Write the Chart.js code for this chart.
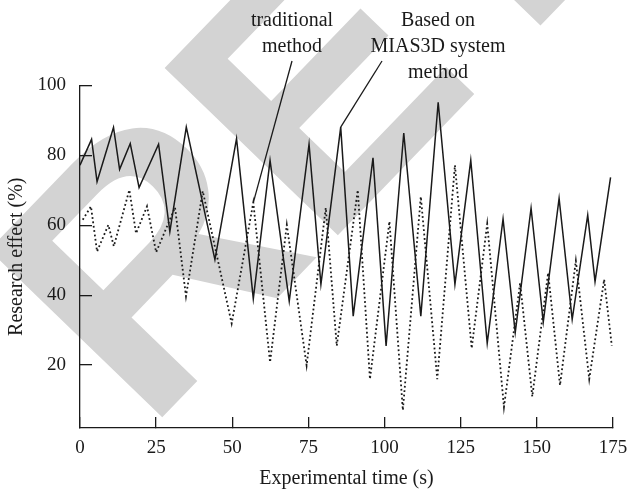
<!DOCTYPE html>
<html>
<head>
<meta charset="utf-8">
<script src="https://cdn.jsdelivr.net/npm/chart.js@4"></script>
<style>
  html, body { margin: 0; padding: 0; background: #fff; }
  #wrap { width: 629px; height: 491px; }
</style>
</head>
<body>
<div id="wrap"><canvas id="chart" width="629" height="491"></canvas></div>
<script>
// Based on MIAS3D system method (solid line)
const miasTime = [0, 3.8, 5.6, 11.0, 13.0, 16.5, 19.4, 25.8, 29.5, 34.9, 44.3, 51.4, 56.9, 62.4, 68.7, 75.2, 79.1, 85.6,
  89.7, 96.2, 100.5, 106.3, 111.9, 117.6, 123.1, 128.3, 133.7, 138.9, 142.9, 148.1, 152.1, 157.3, 161.6, 166.7, 169.1, 174.2];
const miasEffect = [77.2, 84.6, 72.5, 88.0, 76.0, 83.4, 70.8, 83.2, 58.2, 88.1, 50.2, 84.8, 39.0, 78.6, 38.3, 83.2, 43.1, 88.1,
  34.0, 79.3, 25.5, 86.4, 34.0, 95.2, 43.1, 78.6, 26.2, 61.8, 29.3, 64.9, 32.3, 67.7, 33.1, 62.9, 43.9, 73.7];

// traditional method (dotted line)
const tradTime = [0.9, 3.6, 5.6, 9.3, 11.1, 16.2, 18.4, 22.0, 25.0, 31.2, 34.8, 40.3, 49.8, 56.9, 62.4, 67.9, 74.4, 80.7,
  84.3, 91.2, 95.2, 101.6, 106.0, 111.9, 117.3, 123.1, 128.6, 133.7, 139.2, 144.5, 148.5, 153.7, 157.6, 162.8, 167.2, 172.1, 174.6];
const tradEffect = [61.6, 65.4, 52.5, 60.1, 54.0, 70.1, 57.7, 65.4, 52.3, 65.1, 39.7, 69.8, 31.9, 66.5, 20.8, 60.1, 19.9, 65.0,
  25.5, 70.1, 16.0, 61.1, 7.1, 68.2, 16.0, 77.2, 24.8, 60.4, 8.0, 43.5, 11.0, 46.4, 14.2, 49.8, 16.0, 44.5, 25.5];

const yTicks = [20, 40, 60, 80, 100];

const serif = '"Liberation Serif", "Times New Roman", serif';
const ink = '#1a1a1a';

// grey watermark behind the chart
const watermark = {
  id: 'watermark',
  beforeDraw(chart) {
    const ctx = chart.ctx;
    ctx.save();
    ctx.translate(146, 434);
    ctx.rotate(-46 * Math.PI / 180);
    ctx.font = 'bold 350px "Liberation Sans", Arial, sans-serif';
    ctx.fillStyle = '#d3d3d3';
    ctx.textBaseline = 'alphabetic';
    ctx.fillText('RETRACTED', 0, 0);
    ctx.restore();
  }
};

// callout labels with pointer lines
const callouts = {
  id: 'callouts',
  afterDraw(chart) {
    const ctx = chart.ctx;
    const xs = chart.scales.x, ys = chart.scales.y;
    const items = [
      { lines: ['traditional', 'method'], cx: 292, from: [292, 61], to: [56.9, 66.5] },
      { lines: ['Based on', 'MIAS3D system', 'method'], cx: 438, from: [382, 61], to: [85.6, 88.1] }
    ];
    ctx.save();
    ctx.fillStyle = ink;
    ctx.strokeStyle = ink;
    ctx.lineWidth = 1.3;
    ctx.font = '20px ' + serif;
    ctx.textAlign = 'center';
    ctx.textBaseline = 'alphabetic';
    items.forEach(it => {
      it.lines.forEach((t, i) => ctx.fillText(t, it.cx, 26 + i * 26));
      ctx.beginPath();
      ctx.moveTo(it.from[0], it.from[1]);
      ctx.lineTo(xs.getPixelForValue(it.to[0]), ys.getPixelForValue(it.to[1]));
      ctx.stroke();
    });
    ctx.restore();
  }
};

new Chart(document.getElementById('chart'), {
  type: 'line',
  data: {
    datasets: [
      {
        label: 'Based on MIAS3D system method',
        data: miasTime.map((t, i) => ({ x: t, y: miasEffect[i] })),
        borderColor: ink,
        borderWidth: 1.5,
        pointRadius: 0,
        tension: 0,
        fill: false
      },
      {
        label: 'traditional method',
        data: tradTime.map((t, i) => ({ x: t, y: tradEffect[i] })),
        borderColor: ink,
        borderWidth: 1.8,
        borderDash: [1.8, 2.6],
        pointRadius: 0,
        tension: 0,
        fill: false
      }
    ]
  },
  options: {
    responsive: false,
    animation: false,
    devicePixelRatio: 1,
    layout: { padding: { top: 85.5, right: 0, left: 0, bottom: 0 } },
    plugins: { legend: { display: false }, tooltip: { enabled: false } },
    scales: {
      x: {
        type: 'linear',
        min: 0,
        max: 175,
        afterFit(s) { s.height = 63; s.paddingRight = 16; s.paddingLeft = 0; },
        border: { color: ink, width: 1.3 },
        grid: { drawOnChartArea: false, drawTicks: true, tickLength: -11, color: ink, lineWidth: 1.3 },
        ticks: { stepSize: 25, color: ink, font: { family: serif, size: 19 }, padding: 20, maxRotation: 0 },
        title: { display: true, text: 'Experimental time (s)', color: ink, font: { family: serif, size: 20 }, padding: { top: 0, bottom: 0 } }
      },
      y: {
        min: 2,
        max: 100,
        afterFit(s) { s.width = 80; },
        afterBuildTicks(s) { s.ticks = yTicks.map(v => ({ value: v })); },
        border: { color: ink, width: 1.3 },
        grid: { drawOnChartArea: false, drawTicks: true, tickLength: -12, color: ink, lineWidth: 1.3 },
        ticks: { color: ink, font: { family: serif, size: 19 }, padding: 26 },
        title: { display: true, text: 'Research effect (%)', color: ink, font: { family: serif, size: 20 }, padding: { top: 5, bottom: 0 } }
      }
    }
  },
  plugins: [watermark, callouts]
});
</script>
</body>
</html>
